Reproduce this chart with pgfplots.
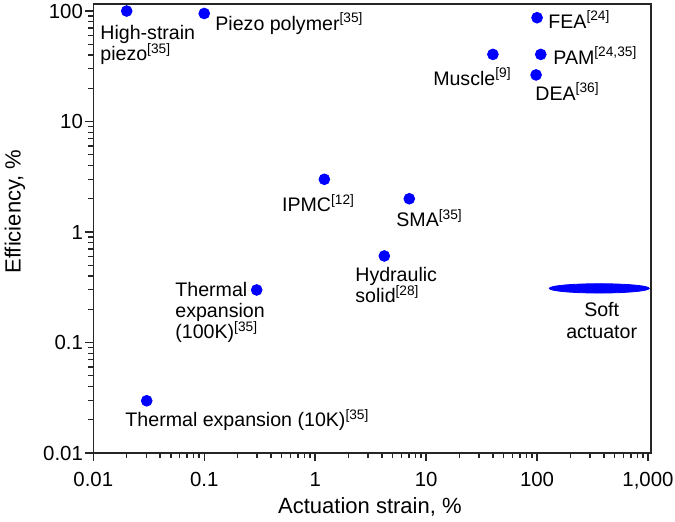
\documentclass[border=0pt]{standalone}
\usepackage{fontspec}
\setmainfont{Liberation Sans}
\usepackage{pgfplots}
\pgfplotsset{compat=1.18}
\definecolor{dotblue}{RGB}{0,0,255}
\newcommand{\sref}[1]{\textsuperscript{[#1]}}
\begin{document}
\begin{tikzpicture}[font=\fontsize{9.8}{11}\selectfont]
\begin{axis}[
  name=ax,
  scale only axis,
  width=278.85pt, height=224.5pt,
  xmode=log, ymode=log,
  xmin=0.01, xmax=1064, ymin=0.01, ymax=115.7,
  axis line style={line width=0.7pt, black!85},
  tick style={line width=0.7pt, black!85},
  tick align=outside,
  xtick pos=bottom, ytick pos=left,
  major tick length=4pt, minor tick length=2.5pt,
  xtick={0.01,0.1,1,10,100,1000},
  xticklabels={0.01,0.1,1,10,100,{1,000}},
  ytick={0.01,0.1,1,10,100},
  yticklabels={0.01,0.1,1,10,100},
  minor xtick={0.02,0.03,0.04,0.05,0.06,0.07,0.08,0.09,
               0.2,0.3,0.4,0.5,0.6,0.7,0.8,0.9,
               2,3,4,5,6,7,8,9,
               20,30,40,50,60,70,80,90,
               200,300,400,500,600,700,800,900},
  minor ytick={0.02,0.03,0.04,0.05,0.06,0.07,0.08,0.09,
               0.2,0.3,0.4,0.5,0.6,0.7,0.8,0.9,
               2,3,4,5,6,7,8,9,
               20,30,40,50,60,70,80,90},
  tick label style={font=\fontsize{10.2}{12}\selectfont},
  yticklabel style={inner sep=1pt},
  xticklabel style={yshift=-2pt},
  xlabel={Actuation strain, \%},
  ylabel={Efficiency, \%},
  xlabel style={at={(rel axis cs:0.496,0)}, anchor=base, inner sep=0pt, yshift=-30pt, font=\fontsize{11}{13}\selectfont},
  ylabel style={at={([xshift=-36.3pt]rel axis cs:0,0.538)}, anchor=base, inner sep=0pt, font=\fontsize{11}{13}\selectfont},
  clip=false,
]
\addplot[only marks, mark=*, mark size=2.7pt, color=dotblue] coordinates {
  (0.02,100) (0.1,95) (100,87) (40,40.5) (108,40.5) (98,26.4)
  (1.21,3.0) (7.05,2.0) (4.2,0.607) (0.297,0.299) (0.0303,0.0297)
};
\addplot[only marks, mark=*, mark size=2.5pt, color=dotblue, mark options={xscale=10, yscale=0.93}] coordinates {
  (364,0.309)
};
\begin{scope}[every node/.style={inner sep=0pt}]
\node[anchor=base west] at (rel axis cs:0.0120,0.9220) {High-strain};
\node[anchor=base west] at (rel axis cs:0.0120,0.8731) {piezo\sref{35}};
\node[anchor=base west] at (rel axis cs:0.2182,0.9421) {Piezo polymer\sref{35}};
\node[anchor=base west] at (rel axis cs:0.8153,0.9465) {FEA\sref{24}};
\node[anchor=base west] at (rel axis cs:0.8243,0.8664) {PAM\sref{24,35}};
\node[anchor=base east] at (rel axis cs:0.7508,0.8196) {Muscle\sref{9}};
\node[anchor=base west] at (rel axis cs:0.7920,0.7862) {DEA\sref{36}};
\node[anchor=base west] at (rel axis cs:0.3378,0.5374) {IPMC\sref{12}};
\node[anchor=base west] at (rel axis cs:0.5428,0.5040) {SMA\sref{35}};
\node[anchor=base west] at (rel axis cs:0.4692,0.3815) {Hydraulic};
\node[anchor=base west] at (rel axis cs:0.4692,0.3341) {solid\sref{28}};
\node[anchor=base west] at (rel axis cs:0.1465,0.3496) {Thermal};
\node[anchor=base west] at (rel axis cs:0.1465,0.3018) {expansion};
\node[anchor=base west] at (rel axis cs:0.1465,0.2550) {(100K)\sref{35}};
\node[anchor=base west] at (rel axis cs:0.0570,0.0586) {Thermal expansion (10K)\sref{35}};
\node[anchor=base] at (rel axis cs:0.9116,0.3036) {Soft};
\node[anchor=base] at (rel axis cs:0.9116,0.2561) {actuator};
\end{scope}
\end{axis}
\pgfresetboundingbox
\path[use as bounding box] ([shift={(-46.65pt,-34pt)}]ax.south west) rectangle ([shift={(290.85pt,226.5pt)}]ax.south west);
\end{tikzpicture}
\end{document}
